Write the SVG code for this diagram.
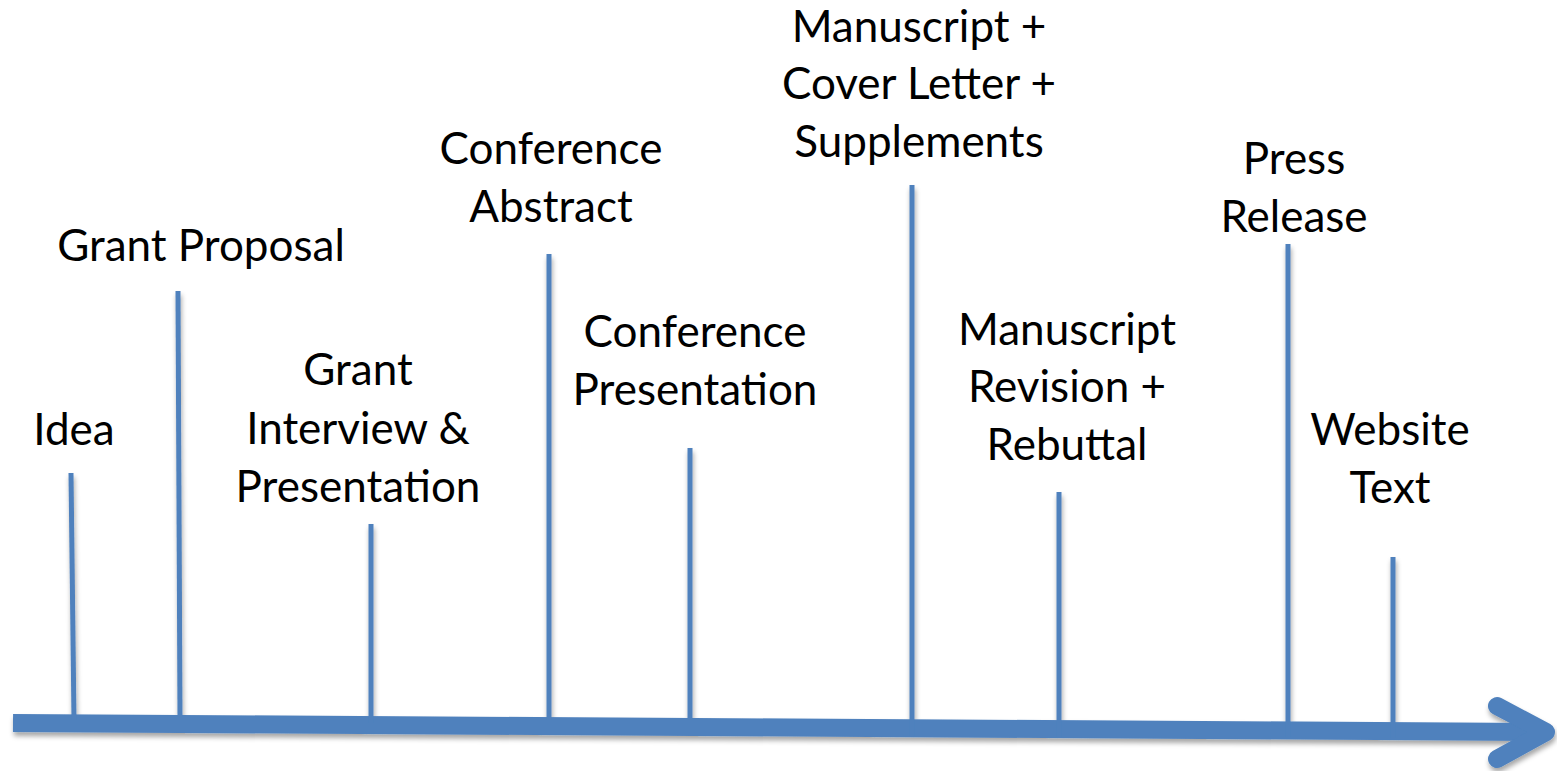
<svg xmlns="http://www.w3.org/2000/svg" width="1557" height="771" viewBox="0 0 1557 771">
<defs>
<filter id="sh" x="-20%" y="-20%" width="140%" height="140%">
<feDropShadow dx="1" dy="4" stdDeviation="2.5" flood-color="#000" flood-opacity="0.35"/>
</filter>
<style>
text{font-family:Lato,"Liberation Sans",sans-serif;font-size:44px;fill:#000;text-anchor:middle}
.tick{stroke:#4F81BD;stroke-width:5;fill:none}
.shaft{stroke:#4F81BD;stroke-width:18;fill:none;stroke-linecap:butt}
.head{stroke:#4F81BD;stroke-width:18;fill:none;stroke-linecap:round;stroke-linejoin:round}
</style>
</defs>
<rect width="1557" height="771" fill="#fff"/>
<g id="connectors" filter="url(#sh)">
<path class="shaft" d="M13 723 L1544 732"/>
<polyline class="head" points="1497,706 1546,732 1497,759"/>
<line class="tick" x1="71" y1="473" x2="74" y2="720"/>
<line class="tick" x1="178" y1="291" x2="180" y2="717"/>
<line class="tick" x1="371" y1="524" x2="371" y2="723"/>
<line class="tick" x1="549" y1="254" x2="549" y2="720"/>
<line class="tick" x1="690" y1="448" x2="690" y2="719"/>
<line class="tick" x1="912" y1="185" x2="912" y2="736"/>
<line class="tick" x1="1059" y1="492" x2="1059" y2="737"/>
<line class="tick" x1="1288" y1="244" x2="1288" y2="737"/>
<line class="tick" x1="1393" y1="557" x2="1393" y2="738"/>
</g>
<g id="idea"><text x="74" y="445">Idea</text></g>
<g id="grant-proposal"><text x="201" y="261">Grant Proposal</text></g>
<g id="grant-interview"><text x="358" y="385">Grant</text><text x="358" y="444">Interview &amp;</text><text x="358" y="502">Presentation</text></g>
<g id="conference-abstract"><text x="551" y="164">Conference</text><text x="551" y="222">Abstract</text></g>
<g id="conference-presentation"><text x="695" y="347">Conference</text><text x="695" y="405">Presentation</text></g>
<g id="manuscript"><text x="919" y="42">Manuscript +</text><text x="919" y="99">Cover Letter +</text><text x="919" y="157">Supplements</text></g>
<g id="manuscript-revision"><text x="1067" y="345">Manuscript</text><text x="1067" y="402">Revision +</text><text x="1067" y="460">Rebuttal</text></g>
<g id="press-release"><text x="1294" y="174">Press</text><text x="1294" y="232">Release</text></g>
<g id="website-text"><text x="1390" y="445">Website</text><text x="1390" y="503">Text</text></g>
</svg>
